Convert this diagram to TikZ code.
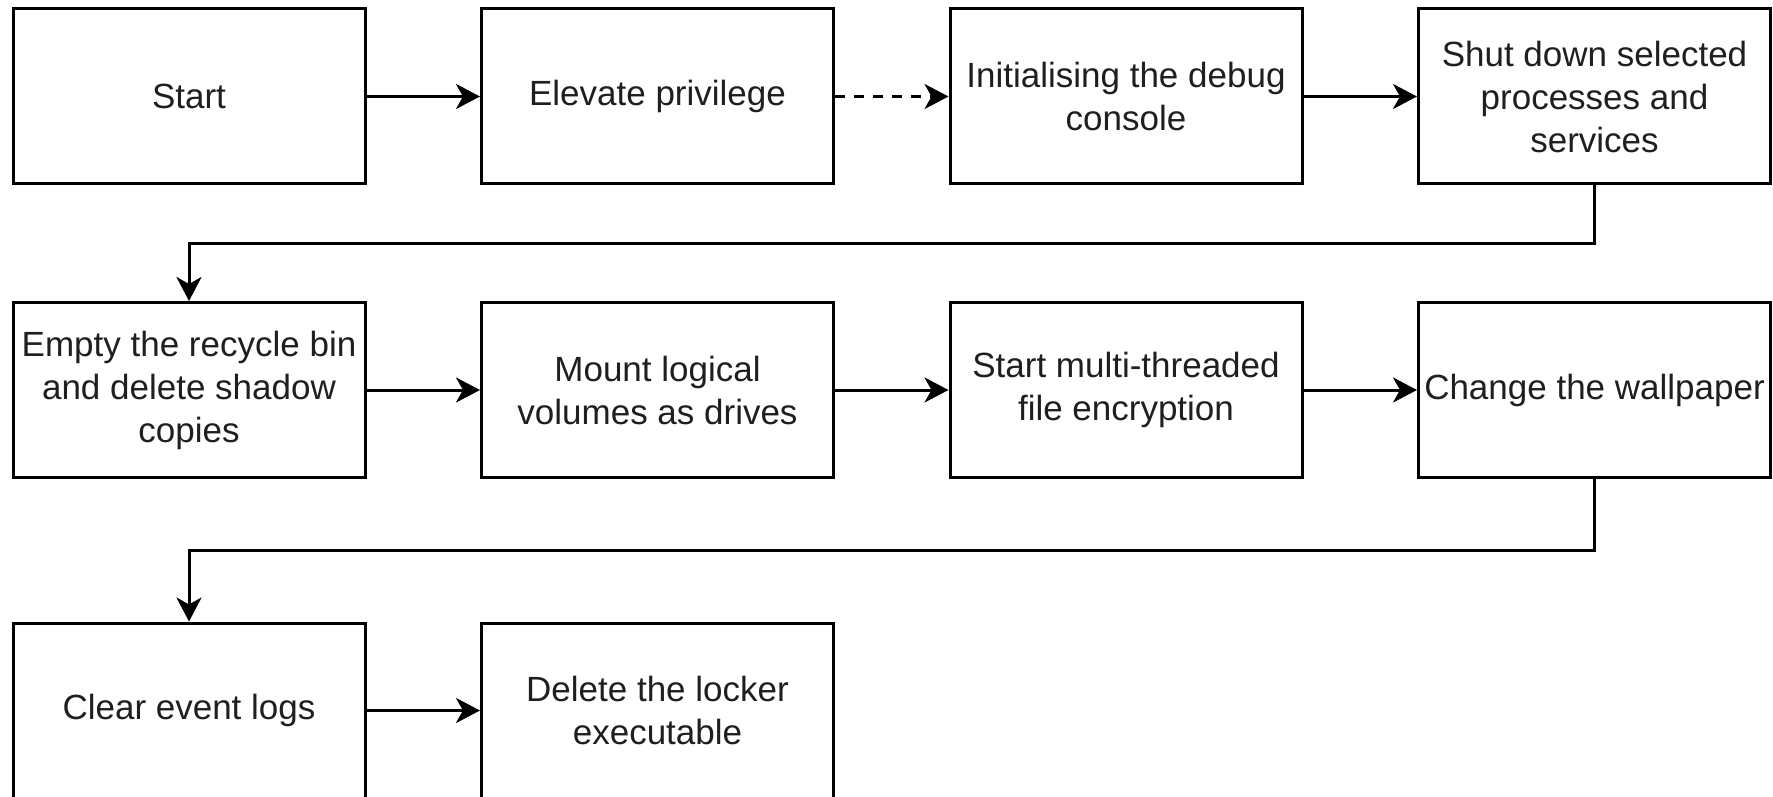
\documentclass[tikz,border=0pt]{standalone}
\usepackage{fontspec}
\setmainfont{Liberation Sans}
\usetikzlibrary{arrows.meta}
\begin{document}
\begin{tikzpicture}[x=1pt,y=-1pt,
  stepbox/.style={draw=black, line width=3pt, fill=white, rectangle,
    minimum width=352pt, minimum height=175pt, inner sep=0pt,
    align=center, text=black!88, font=\fontsize{35}{43}\selectfont},
  flow/.style={line width=3pt, draw=black,
    -{Stealth[length=24pt,width=25pt,inset=7pt]}},
  dashflow/.style={flow, dash pattern=on 10pt off 9pt}]
\useasboundingbox (0,0) rectangle (1773,797);
% row 1
\node[stepbox] (start) at (189,96.5) {Start};
\node[stepbox] (elev) at (657.5,96.5) {Elevate privilege};
\node[stepbox] (init) at (1126,96.5) {Initialising the debug\\console};
\node[stepbox] (shut) at (1594.5,96.5) {Shut down selected\\processes and\\services};
% row 2
\node[stepbox] (empty) at (189,390) {Empty the recycle bin\\and delete shadow\\copies};
\node[stepbox] (mount) at (657.5,390) {Mount logical\\volumes as drives};
\node[stepbox] (encr) at (1126,390) {Start multi-threaded\\file encryption};
\node[stepbox] (wall) at (1594.5,390) {Change the wallpaper};
% row 3
\node[stepbox] (logs) at (189,710.5) {Clear event logs};
\node[stepbox] (locker) at (657.5,710.5) {Delete the locker\\executable};
% bend points of the row-to-row links
\coordinate (bend1) at (1594.5,243.5);
\coordinate (bend2) at (1594.5,550);
% connectors
\draw[flow] (start) -- (elev);
\draw[dashflow] (elev) -- (init);
\draw[flow] (init) -- (shut);
\draw[flow] (shut.south) -- (bend1) -| (empty.north);
\draw[flow] (empty) -- (mount);
\draw[flow] (mount) -- (encr);
\draw[flow] (encr) -- (wall);
\draw[flow] (wall.south) -- (bend2) -| (logs.north);
\draw[flow] (logs) -- (locker);
\end{tikzpicture}
\end{document}
